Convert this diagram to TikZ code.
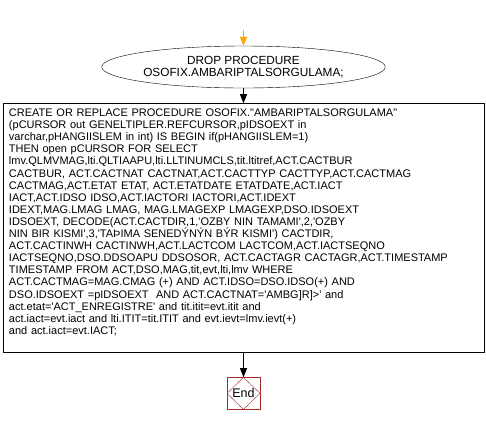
\documentclass[tikz,border=0pt]{standalone}
\usepackage{fontspec}
\setmainfont{Liberation Sans}[Ligatures=TeXOff]
\usepackage{xcolor}
\usepackage{tikz}
\usetikzlibrary{shapes.geometric, arrows.meta, positioning, calc}

\definecolor{flowarrow}{HTML}{FFA500}
\definecolor{endred}{HTML}{A52A2A}

\begin{document}
\begin{tikzpicture}[
    node distance=15pt,
    every node/.style={font=\fontsize{11}{12.1}\selectfont},
    dropbox/.style={draw, ellipse, minimum width=215pt, minimum height=42pt, inner sep=0pt, align=center,
        font=\fontsize{11.8}{12}\selectfont},
    procbox/.style={draw, rectangle, minimum width=481pt, text width=469pt, inner xsep=6pt, inner ysep=5.5pt, align=left},
    endbox/.style={draw=endred, rectangle, minimum width=33pt, minimum height=32pt, inner sep=0pt,
        path picture={\draw[endred] (path picture bounding box.north) -- (path picture bounding box.east)
            -- (path picture bounding box.south) -- (path picture bounding box.west) -- cycle;},
        font=\fontsize{12.5}{14}\selectfont},
    arrow/.style={-{Triangle[width=7pt, length=9pt]}, line width=1.2pt}
]

    % Flow
    \node[dropbox] (drop) {DROP PROCEDURE\\OSOFIX.AMBARIPTALSORGULAMA;};
    \coordinate[above=16pt of drop] (start);
    \node[procbox, below=of drop] (proc) {CREATE OR REPLACE PROCEDURE OSOFIX."AMBARIPTALSORGULAMA"\\
(pCURSOR out GENELTIPLER.REFCURSOR,pIDSOEXT in\\
varchar,pHANGIISLEM in int) IS BEGIN if(pHANGIISLEM=1)\\
THEN open pCURSOR FOR SELECT\\
lmv.QLMVMAG,lti.QLTIAAPU,lti.LLTINUMCLS,tit.ltitref,ACT.CACTBUR\\
CACTBUR, ACT.CACTNAT CACTNAT,ACT.CACTTYP CACTTYP,ACT.CACTMAG\\
CACTMAG,ACT.ETAT ETAT, ACT.ETATDATE ETATDATE,ACT.IACT\\
IACT,ACT.IDSO IDSO,ACT.IACTORI IACTORI,ACT.IDEXT\\
IDEXT,MAG.LMAG LMAG, MAG.LMAGEXP LMAGEXP,DSO.IDSOEXT\\
IDSOEXT, DECODE(ACT.CACTDIR,1,'OZBY NIN TAMAMI',2,'OZBY\\
NIN BIR KISMI',3,'TAÞIMA SENEDÝNÝN BÝR KISMI') CACTDIR,\\
ACT.CACTINWH CACTINWH,ACT.LACTCOM LACTCOM,ACT.IACTSEQNO\\
IACTSEQNO,DSO.DDSOAPU DDSOSOR, ACT.CACTAGR CACTAGR,ACT.TIMESTAMP\\
TIMESTAMP FROM ACT,DSO,MAG,tit,evt,lti,lmv WHERE\\
ACT.CACTMAG=MAG.CMAG (+) AND ACT.IDSO=DSO.IDSO(+) AND\\
DSO.IDSOEXT =pIDSOEXT\ \ AND ACT.CACTNAT='AMBG]R]>' and\\
act.etat='ACT\_ENREGISTRE' and tit.itit=evt.itit and\\
act.iact=evt.iact and lti.ITIT=tit.ITIT and evt.ievt=lmv.ievt(+)\\
and act.iact=evt.IACT;\\\mbox{}};
    \node[endbox, below=25pt of proc] (stop) {End};

    \draw[arrow, flowarrow] (start) -- (drop);
    \draw[arrow] (drop) -- (proc);
    \draw[arrow] (proc) -- (stop);

    \useasboundingbox (-243.5pt,67pt) rectangle (242.5pt,-357pt);

\end{tikzpicture}
\end{document}
